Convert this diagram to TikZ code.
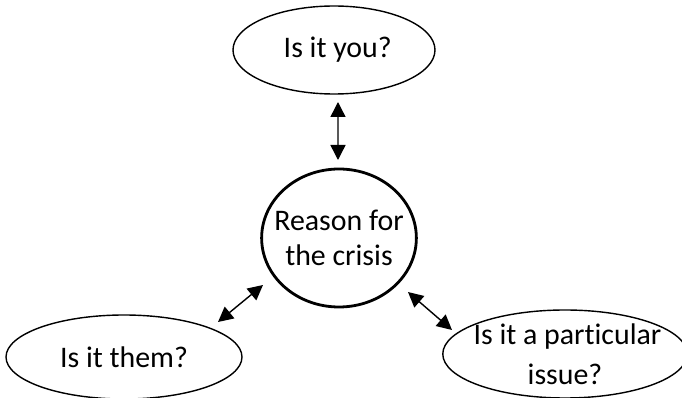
\documentclass[tikz,border=0pt]{standalone}
\usepackage{fontspec}
\setmainfont{Carlito}[Ligatures=NoCommon]
\usepackage{tikz}
\usetikzlibrary{arrows.meta, positioning, calc, shapes.geometric}

\tikzset{
  bubble/.style={draw, ellipse, line width=0.8pt, inner ysep=0pt, inner xsep=-0.2cm, align=center,
                 font=\fontsize{17}{23}\selectfont},
  hub/.style={bubble, line width=1.6pt, font=\fontsize{17}{19.5}\selectfont},
  link/.style={{Triangle[length=3mm,width=3mm]}-{Triangle[length=3mm,width=3mm]}, line width=0.8pt}
}

\begin{document}
\begin{tikzpicture}[>=latex, scale=1.0]

\useasboundingbox (0,0) rectangle (13.64,7.96);

% Centre
\node[hub, minimum width=3.04cm, minimum height=2.76cm] (crisis) at (6.78,3.2) {\raisebox{-3pt}{}Reason for\\the crisis};

% Questions
\node[bubble, minimum width=4.04cm, minimum height=1.76cm] (you) at (6.68,6.96) {\hspace*{0.15cm}Is it you?};
\node[bubble, minimum width=4.72cm, minimum height=1.68cm] (them) at (2.48,0.82) {Is it them?};
\node[bubble, minimum width=4.62cm, minimum height=1.76cm] (issue) at (11.3,0.88) {\hspace*{0.1cm}Is it a particular\\issue?};

% Double arrows
\draw[link] ([shift={(0.08,-1.04)}]you.center) -- ([shift={(-0.02,1.56)}]crisis.center);
\draw[link] ([shift={(1.88,0.70)}]them.center) -- ([shift={(-1.52,-0.94)}]crisis.center);
\draw[link] ([shift={(1.38,-1.08)}]crisis.center) -- ([shift={(-2.26,0.48)}]issue.center);

\end{tikzpicture}
\end{document}
